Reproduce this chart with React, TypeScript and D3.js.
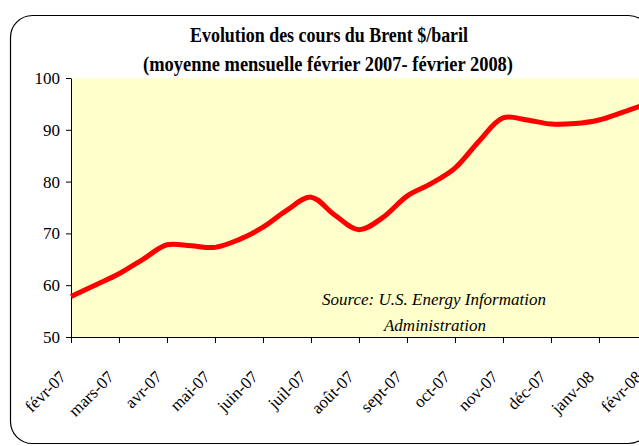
import React, { useEffect, useRef } from "react";
import * as d3 from "d3";

// month tick labels (one per month, data on tick marks)
const months = [
  "févr-07", "mars-07", "avr-07", "mai-07", "juin-07", "juil-07", "août-07",
  "sept-07", "oct-07", "nov-07", "déc-07", "janv-08", "févr-08",
];

// Brent $/baril, sampled every half month
const brent = [
  57.8, 60.0, 62.2, 65.0, 67.8, 67.6, 67.3, 68.8, 71.2, 74.5, 77.0, 73.5,
  70.7, 73.1, 77.2, 79.6, 82.6, 87.8, 92.3, 91.9, 91.1, 91.2, 91.9, 93.4, 95.0,
];

const yTicks = [50, 60, 70, 80, 90, 100];

const title1 = "Evolution des cours du Brent $/baril";
const title2 = "(moyenne mensuelle février 2007- février 2008)";
const source1 = "Source: U.S. Energy Information";
const source2 = "Administration";

const W = 639;
const H = 446;

const App: React.FC = () => {
  const svgRef = useRef<SVGSVGElement>(null);

  useEffect(() => {
    if (!svgRef.current) return;
    const svg = d3.select(svgRef.current);
    svg.selectAll("*").remove();

    const font = "'Liberation Serif', 'Times New Roman', serif";
    const left = 71;
    const top = 78;
    const bottom = 337;
    const step = 48;

    svg
      .append("rect")
      .attr("width", W)
      .attr("height", H)
      .attr("fill", "#fff");

    // outer frame (runs off the right edge)
    svg
      .append("rect")
      .attr("x", 10.5)
      .attr("y", 15.5)
      .attr("width", 640)
      .attr("height", 428)
      .attr("rx", 22)
      .attr("fill", "#fff")
      .attr("stroke", "#000")
      .attr("stroke-width", 1.2);

    const x = d3
      .scaleLinear()
      .domain([0, months.length - 1])
      .range([left, left + step * (months.length - 1)]);
    const y = d3.scaleLinear().domain([50, 100]).range([bottom, top]);

    // plot area
    svg
      .append("rect")
      .attr("x", left)
      .attr("y", top)
      .attr("width", 700)
      .attr("height", bottom - top)
      .attr("fill", "#FFFFCC");

    // titles
    svg
      .append("text")
      .attr("x", 329)
      .attr("y", 42)
      .attr("text-anchor", "middle")
      .attr("font-family", font)
      .attr("font-weight", "bold")
      .attr("font-size", 20)
      .attr("textLength", 278)
      .attr("lengthAdjust", "spacingAndGlyphs")
      .text(title1);
    svg
      .append("text")
      .attr("x", 328)
      .attr("y", 71)
      .attr("text-anchor", "middle")
      .attr("font-family", font)
      .attr("font-weight", "bold")
      .attr("font-size", 20)
      .attr("textLength", 370)
      .attr("lengthAdjust", "spacingAndGlyphs")
      .text(title2);

    // y axis
    const yAxis = svg
      .append("g")
      .attr("transform", `translate(${left},0)`)
      .call(
        d3
          .axisLeft(y)
          .tickValues(yTicks)
          .tickSize(5)
          .tickSizeOuter(0)
          .tickPadding(6)
      );
    yAxis.select(".domain").attr("stroke", "#000");
    yAxis
      .selectAll("text")
      .attr("font-family", font)
      .attr("font-size", 17)
      .attr("fill", "#000");

    // x axis
    const xAxis = svg
      .append("g")
      .attr("transform", `translate(0,${bottom})`)
      .call(
        d3
          .axisBottom(x)
          .tickValues(d3.range(months.length))
          .tickSize(6)
          .tickSizeOuter(0)
          .tickFormat(() => "")
      );
    xAxis.select(".domain").attr("d", `M${left},0.5H${W + 10}`).attr("stroke", "#000");

    svg
      .append("g")
      .selectAll("text")
      .data(months)
      .enter()
      .append("text")
      .attr(
        "transform",
        (_, i) => `translate(${x(i) - 4},${bottom + 41}) rotate(-45)`
      )
      .attr("text-anchor", "end")
      .attr("font-family", font)
      .attr("font-size", 17)
      .attr("fill", "#000")
      .text((d) => d);

    // source note
    svg
      .append("text")
      .attr("x", 434)
      .attr("y", 305)
      .attr("text-anchor", "middle")
      .attr("font-family", font)
      .attr("font-style", "italic")
      .attr("font-size", 17)
      .text(source1);
    svg
      .append("text")
      .attr("x", 435)
      .attr("y", 331)
      .attr("text-anchor", "middle")
      .attr("font-family", font)
      .attr("font-style", "italic")
      .attr("font-size", 17)
      .text(source2);

    // Brent line
    const line = d3
      .line<number>()
      .x((_, i) => x(i / 2))
      .y((d) => y(d))
      .curve(d3.curveCatmullRom.alpha(0.5));

    svg
      .append("path")
      .datum(brent)
      .attr("fill", "none")
      .attr("stroke", "#FF0000")
      .attr("stroke-width", 5)
      .attr("stroke-linejoin", "round")
      .attr("d", line);
  }, []);

  return (
    <svg
      ref={svgRef}
      width={W}
      height={H}
      style={{ position: "fixed", left: 0, top: 0 }}
    />
  );
};

export default App;
